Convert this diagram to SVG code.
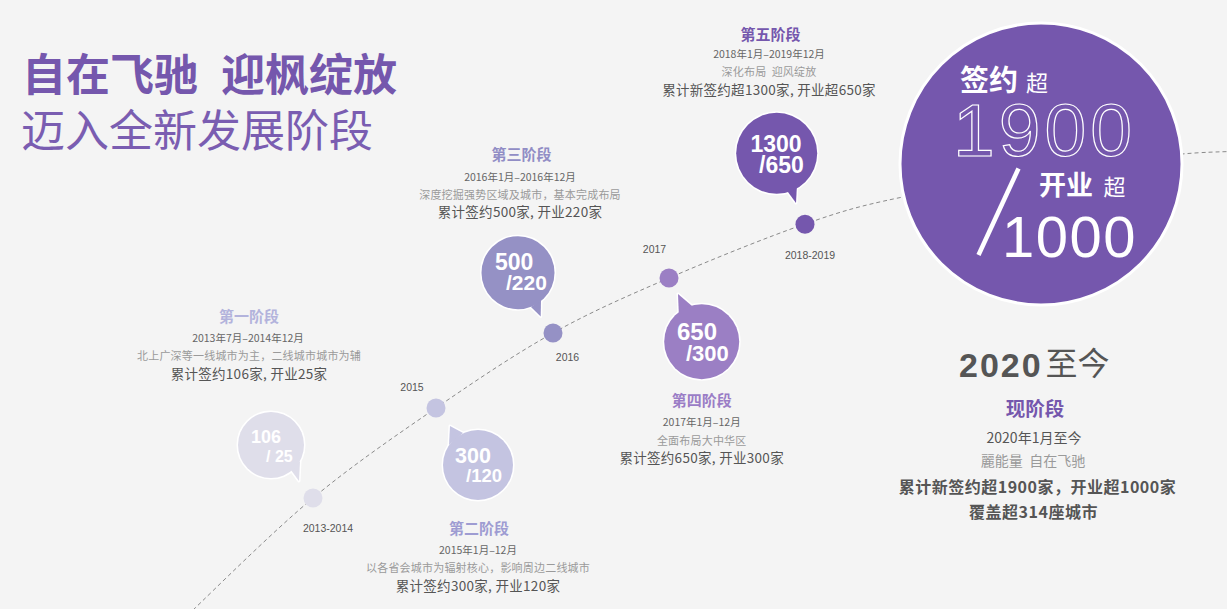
<svg xmlns="http://www.w3.org/2000/svg" width="1227" height="609" viewBox="0 0 1227 609">
<defs>
<style>
.cjk{font-family:"Noto Sans CJK SC","Liberation Sans",sans-serif}
.num{font-family:"Liberation Sans","Noto Sans CJK SC",sans-serif}
.stg{font-family:"Noto Sans CJK SC",sans-serif;font-size:15px;font-weight:700;text-anchor:middle}
.date{font-family:"Noto Sans CJK SC",sans-serif;font-size:10.5px;fill:#666;text-anchor:middle}
.desc{font-family:"Noto Sans CJK SC",sans-serif;font-size:11px;fill:#9a9a9a;text-anchor:middle;letter-spacing:0.2px}
.sum{font-family:"Noto Sans CJK SC",sans-serif;font-size:13.5px;fill:#555;text-anchor:middle;letter-spacing:0.3px}
.yr{font-family:"Liberation Sans",sans-serif;font-size:10.5px;fill:#555;text-anchor:middle}
.bn{font-family:"Liberation Sans",sans-serif;font-weight:700;fill:#fff}
.edge{stroke:#fff;stroke-width:3;stroke-linejoin:round}
</style>
</defs>
<rect width="1227" height="609" fill="#f4f4f4"/>

<g id="connectors">
<path d="M193,610 C212,592 273,531.2 313,498 C353,464.8 396,435.5 436,408 C476,380.5 514.2,354.7 553,333 C591.8,311.3 627,296.2 669,278 C711,259.8 766.8,237.3 805,224 C843.2,210.7 858.8,206.3 898,198 C937.2,189.7 992.7,181.3 1040,174 C1087.3,166.7 1150.8,157.7 1182,154 C1205,152 1218,152 1230,151.5" fill="none" stroke="#8a8a8a" stroke-width="1" stroke-dasharray="4 3"/>
</g>

<g id="title">
<text class="cjk" x="22" y="91" font-size="44" font-weight="700" fill="#7557ad">自在飞驰</text>
<text class="cjk" x="221" y="91" font-size="44" font-weight="700" fill="#7557ad">迎枫绽放</text>
<text class="cjk" x="21" y="147" font-size="44" fill="#7a5db1">迈入全新发展阶段</text>
</g>

<g id="stage1">
<circle cx="313" cy="498" r="9.5" fill="#dfdeea"/>
<text class="yr" x="328" y="532">2013-2014</text>
<g>
<polygon class="edge" points="291,470 300,461 299,481" fill="#dfdeea"/>
<circle class="edge" cx="271" cy="445" r="33" fill="#dfdeea"/>
<polygon points="291,470 300,461 299,481" fill="#dfdeea"/>
<circle cx="271" cy="445" r="33" fill="#dfdeea"/>
<text class="bn" x="251" y="443" font-size="18">106</text>
<text class="bn" x="266" y="461.5" font-size="16">/ 25</text>
</g>
<text class="stg" x="249" y="322" fill="#b3b3dc">第一阶段</text>
<text class="date" x="248" y="342">2013年7月–2014年12月</text>
<text class="desc" x="249" y="360">北上广深等一线城市为主，二线城市城市为辅</text>
<text class="sum" x="249" y="378.5">累计签约106家, 开业25家</text>
</g>

<g id="stage2">
<circle cx="436" cy="408" r="9.5" fill="#c4c4e1"/>
<text class="yr" x="412" y="391">2015</text>
<g>
<polygon class="edge" points="449,445 463,433 450,426" fill="#c4c4e1"/>
<circle class="edge" cx="478" cy="465" r="35" fill="#c4c4e1"/>
<polygon points="449,445 463,433 450,426" fill="#c4c4e1"/>
<circle cx="478" cy="465" r="35" fill="#c4c4e1"/>
<text class="bn" x="455" y="463.3" font-size="21.5">300</text>
<text class="bn" x="466" y="482.3" font-size="18.5">/120</text>
</g>
<text class="stg" x="479" y="534" fill="#9e9cd2">第二阶段</text>
<text class="date" x="478" y="554">2015年1月–12月</text>
<text class="desc" x="478" y="572">以各省会城市为辐射核心，影响周边二线城市</text>
<text class="sum" x="478" y="591">累计签约300家, 开业120家</text>
</g>

<g id="stage3">
<circle cx="553" cy="333" r="9.5" fill="#9591c5"/>
<text class="yr" x="567.5" y="360.5">2016</text>
<g>
<polygon class="edge" points="531,307 541,300 540.7,316.5" fill="#9591c5"/>
<circle class="edge" cx="518" cy="272.7" r="36.5" fill="#9591c5"/>
<polygon points="531,307 541,300 540.7,316.5" fill="#9591c5"/>
<circle cx="518" cy="272.7" r="36.5" fill="#9591c5"/>
<text class="bn" x="495" y="270" font-size="23">500</text>
<text class="bn" x="506" y="290" font-size="21">/220</text>
</g>
<text class="stg" x="521.5" y="160" fill="#918dc5">第三阶段</text>
<text class="date" x="520" y="180.5">2016年1月–2016年12月</text>
<text class="desc" x="520" y="198.5">深度挖掘强势区域及城市，基本完成布局</text>
<text class="sum" x="520" y="216.5">累计签约500家, 开业220家</text>
</g>

<g id="stage4">
<circle cx="669" cy="278" r="9.5" fill="#9b7fc4"/>
<text class="yr" x="654.5" y="253">2017</text>
<g>
<polygon class="edge" points="679,318 692,306 678,294" fill="#9b7fc4"/>
<circle class="edge" cx="701.7" cy="341.7" r="37.5" fill="#9b7fc4"/>
<polygon points="679,318 692,306 678,294" fill="#9b7fc4"/>
<circle cx="701.7" cy="341.7" r="37.5" fill="#9b7fc4"/>
<text class="bn" x="677" y="340" font-size="24">650</text>
<text class="bn" x="686" y="360.5" font-size="22">/300</text>
</g>
<text class="stg" x="701.7" y="406" fill="#9a7dc6">第四阶段</text>
<text class="date" x="701.7" y="426">2017年1月–12月</text>
<text class="desc" x="701.7" y="444.5">全面布局大中华区</text>
<text class="sum" x="701.7" y="462.5">累计签约650家, 开业300家</text>
</g>

<g id="stage5">
<circle cx="805" cy="224.3" r="9.5" fill="#7557ad"/>
<text class="yr" x="810" y="259">2018-2019</text>
<g>
<polygon class="edge" points="785,188 797,184 796,203" fill="#7557ad"/>
<circle class="edge" cx="776.7" cy="153.3" r="40.5" fill="#7557ad"/>
<polygon points="785,188 797,184 796,203" fill="#7557ad"/>
<circle cx="776.7" cy="153.3" r="40.5" fill="#7557ad"/>
<text class="bn" x="750.5" y="151.7" font-size="23">1300</text>
<text class="bn" x="759" y="173.3" font-size="23">/650</text>
</g>
<text class="stg" x="770.5" y="39.5" fill="#7557ad">第五阶段</text>
<text class="date" x="769" y="58">2018年1月–2019年12月</text>
<text class="desc" x="769" y="76">深化布局&#160;&#160;迎风绽放</text>
<text class="sum" x="769" y="94.5">累计新签约超1300家, 开业超650家</text>
</g>

<g id="total">
<circle cx="1041" cy="164" r="141" fill="#7557ad" stroke="#fff" stroke-width="3"/>
<text class="cjk" x="960" y="90.5" font-size="29" font-weight="700" fill="#fff">签约</text>
<text class="cjk" x="1026" y="90.5" font-size="22" fill="#fff">超</text>
<text class="num" x="953" y="156" font-size="75" letter-spacing="4" fill="none" stroke="#fff" stroke-width="1.2">1900</text>
<line x1="978.5" y1="255" x2="1018.5" y2="168.5" stroke="#fff" stroke-width="4.5"/>
<text class="cjk" x="1039" y="194.5" font-size="27" font-weight="700" fill="#fff">开业</text>
<text class="cjk" x="1103.5" y="194.5" font-size="22" fill="#fff">超</text>
<text class="num" x="1002" y="257" font-size="58" letter-spacing="1.5" fill="#fff">1000</text>
</g>

<g id="current">
<text class="num" x="959" y="376.5" font-size="34" font-weight="700" letter-spacing="2" fill="#555">2020</text>
<text class="cjk" x="1045.5" y="375" font-size="32" fill="#555">至今</text>
<text class="cjk" x="1035" y="416" font-size="19.5" font-weight="700" fill="#7557ad" text-anchor="middle">现阶段</text>
<text class="cjk" x="1034" y="442.5" font-size="14" fill="#555" text-anchor="middle">2020年1月至今</text>
<text class="cjk" x="1033" y="465.5" font-size="14" fill="#9a9a9a" text-anchor="middle">麗能量&#160;&#160;自在飞驰</text>
<text class="cjk" x="1037.5" y="492.5" font-size="16" font-weight="700" fill="#555" text-anchor="middle" letter-spacing="0.5">累计新签约超1900家，开业超1000家</text>
<text class="cjk" x="1033.5" y="517.5" font-size="16" font-weight="700" fill="#555" text-anchor="middle" letter-spacing="0.5">覆盖超314座城市</text>
</g>
</svg>
